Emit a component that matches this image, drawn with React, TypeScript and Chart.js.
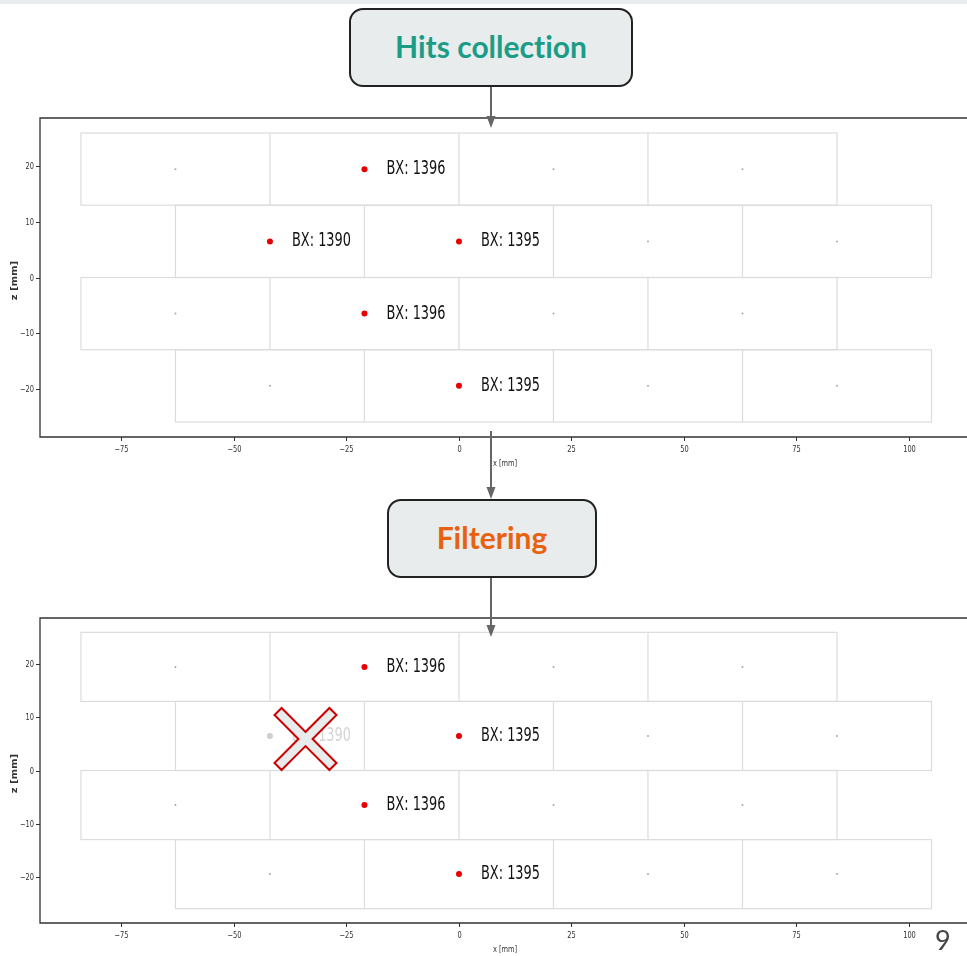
import React, { useEffect, useRef } from "react";
import { Chart, registerables } from "chart.js";

Chart.register(...registerables);

// ---- axes ----
const xTicks = [-75, -50, -25, 0, 25, 50, 75, 100];
const zTicks = [-20, -10, 0, 10, 20];
const X_MIN = -93.1;
const X_MAX = 112.0;
const Z_MIN = -28.7;
const Z_MAX = 28.7;

// ---- drift-tube cell layers (z range and wall positions in mm) ----
const layerZBottom = [13, 0, -13, -26];
const layerZTop = [26, 13, 0, -13];
const layerWalls = [
  [-84, -42, 0, 42, 84],
  [-63, -21, 21, 63, 105],
  [-84, -42, 0, 42, 84],
  [-63, -21, 21, 63, 105],
];

// ---- wire positions (cell centres) ----
const wireX = [-63, -21, 21, 63, -42, 0, 42, 84, -63, -21, 21, 63, -42, 0, 42, 84];
const wireZ = [19.5, 19.5, 19.5, 19.5, 6.5, 6.5, 6.5, 6.5, -6.5, -6.5, -6.5, -6.5, -19.5, -19.5, -19.5, -19.5];

// ---- hits ----
const hitX = [-21, -42, 0, -21, 0];
const hitZ = [19.5, 6.5, 6.5, -6.5, -19.5];
const hitBX = [1396, 1390, 1395, 1396, 1395];
const keptAfterFilter = [true, false, true, true, true];

const SX = 0.68; // horizontal squeeze of the original figure

function txt(ctx: CanvasRenderingContext2D, text: string, x: number, y: number, align: CanvasTextAlign, sx: number) {
  ctx.save();
  ctx.translate(x, y);
  ctx.scale(sx, 1);
  ctx.textAlign = align;
  ctx.textBaseline = "middle";
  ctx.fillText(text, 0, 0);
  ctx.restore();
}

function fmt(v: number) {
  return v < 0 ? "\u2212" + Math.abs(v) : String(v);
}

function DetectorChart({ top, height, filtered }: { top: number; height: number; filtered: boolean }) {
  const ref = useRef<HTMLCanvasElement | null>(null);
  useEffect(() => {
    const canvas = ref.current!;
    const hitOk = hitX.map((_, i) => !(filtered && !keptAfterFilter[i]));
    const hitColors = hitOk.map((ok) => (ok ? "#e60000" : "#cfcfcf"));

    const plugin = {
      id: "detector",
      beforeDatasetsDraw(chart: any) {
        const ctx = chart.ctx as CanvasRenderingContext2D;
        const xs = chart.scales.x;
        const ys = chart.scales.y;
        ctx.save();
        ctx.strokeStyle = "#dcdcdc";
        ctx.lineWidth = 1.2;
        layerWalls.forEach((walls, li) => {
          const y0 = ys.getPixelForValue(layerZBottom[li]);
          const y1 = ys.getPixelForValue(layerZTop[li]);
          const x0 = xs.getPixelForValue(walls[0]);
          const x1 = xs.getPixelForValue(walls[walls.length - 1]);
          ctx.strokeRect(x0, y1, x1 - x0, y0 - y1);
          walls.slice(1, -1).forEach((w) => {
            const px = xs.getPixelForValue(w);
            ctx.beginPath();
            ctx.moveTo(px, y1);
            ctx.lineTo(px, y0);
            ctx.stroke();
          });
        });
        ctx.restore();
      },
      afterDatasetsDraw(chart: any) {
        const ctx = chart.ctx as CanvasRenderingContext2D;
        const xs = chart.scales.x;
        const ys = chart.scales.y;
        const a = chart.chartArea;
        ctx.save();
        // hit labels
        ctx.font = "19px 'DejaVu Sans'";
        hitX.forEach((hx, i) => {
          ctx.fillStyle = hitOk[i] ? "#111111" : "#d4d4d4";
          txt(ctx, "BX: " + hitBX[i], xs.getPixelForValue(hx) + 22, ys.getPixelForValue(hitZ[i]), "left", SX);
        });
        // spines
        ctx.strokeStyle = "#333333";
        ctx.lineWidth = 1.3;
        ctx.beginPath();
        ctx.moveTo(a.right + 10, a.top);
        ctx.lineTo(a.left, a.top);
        ctx.lineTo(a.left, a.bottom);
        ctx.lineTo(a.right + 10, a.bottom);
        ctx.stroke();
        // ticks
        ctx.lineWidth = 1;
        ctx.fillStyle = "#333333";
        ctx.font = "9px 'DejaVu Sans'";
        xTicks.forEach((t) => {
          const px = Math.round(xs.getPixelForValue(t)) + 0.5;
          ctx.beginPath();
          ctx.moveTo(px, a.bottom);
          ctx.lineTo(px, a.bottom + 4);
          ctx.stroke();
          txt(ctx, fmt(t), px, a.bottom + 13, "center", 0.74);
        });
        zTicks.forEach((t) => {
          const py = Math.round(ys.getPixelForValue(t)) + 0.5;
          ctx.beginPath();
          ctx.moveTo(a.left - 4, py);
          ctx.lineTo(a.left, py);
          ctx.stroke();
          txt(ctx, fmt(t), a.left - 6, py, "right", 0.74);
        });
        // axis titles
        txt(ctx, "x [mm]", 505, a.bottom + 27, "center", 0.74);
        ctx.save();
        ctx.translate(15, (a.top + a.bottom) / 2 + 3);
        ctx.rotate(-Math.PI / 2);
        ctx.scale(1, 0.8);
        ctx.textAlign = "center";
        ctx.textBaseline = "middle";
        ctx.font = "bold 10px 'DejaVu Sans'";
        ctx.fillText("z [mm]", 0, 0);
        ctx.restore();
        ctx.restore();
      },
    };

    const chart = new Chart(canvas, {
      type: "scatter",
      data: {
        datasets: [
          {
            label: "wires",
            order: 2,
            data: wireX.map((x, i) => ({ x, y: wireZ[i] })),
            pointRadius: 1,
            pointBackgroundColor: "#a8a8a8",
            pointBorderColor: "#a8a8a8",
            pointBorderWidth: 0,
          },
          {
            label: "hits",
            order: 1,
            data: hitX.map((x, i) => ({ x, y: hitZ[i] })),
            pointStyle: "circle",
            pointRadius: 3,
            pointBorderWidth: 0,
            pointBackgroundColor: hitColors,
            pointBorderColor: hitColors,
          },
        ],
      },
      options: {
        responsive: false,
        animation: false,
        events: [],
        layout: { padding: { left: 40, top: 8, right: 0, bottom: 43 } },
        plugins: { legend: { display: false }, tooltip: { enabled: false } },
        scales: {
          x: { type: "linear", display: false, min: X_MIN, max: X_MAX },
          y: { type: "linear", display: false, min: Z_MIN, max: Z_MAX },
        },
      },
      plugins: [plugin],
    });
    return () => chart.destroy();
  }, [filtered]);
  return (
    <canvas
      ref={ref}
      width={967}
      height={height}
      style={{ position: "absolute", left: 0, top, width: 967, height }}
    />
  );
}

const boxStyle: React.CSSProperties = {
  position: "absolute",
  boxSizing: "border-box",
  border: "2px solid #222222",
  borderRadius: 14,
  background: "#e8ecec",
  display: "flex",
  alignItems: "center",
  justifyContent: "center",
  paddingBottom: 3,
  fontFamily: "Lato, 'Open Sans', sans-serif",
  fontWeight: 700,
  fontSize: 30,
  fontVariantLigatures: "none",
};

function Arrow({ x, y1, y2 }: { x: number; y1: number; y2: number }) {
  return (
    <g>
      <line x1={x} y1={y1} x2={x} y2={y2 - 10} stroke="#666666" strokeWidth={2} />
      <polygon points={`${x - 4.5},${y2 - 12} ${x + 4.5},${y2 - 12} ${x},${y2}`} fill="#666666" />
    </g>
  );
}

export default function App() {
  const t = 5 / Math.SQRT2;
  const n = 5 * Math.SQRT2;
  const cx = 305.5;
  const cy = 739;
  const e = 31;
  const f = 31 - 2 * t;
  const xPts = [
    [0, -n], [f, -e], [e, -f], [n, 0], [e, f], [f, e], [0, n], [-f, e], [-e, f], [-n, 0], [-e, -f], [-f, -e],
  ]
    .map(([px, py]) => `${cx + px},${cy + py}`)
    .join(" ");
  return (
    <div style={{ position: "absolute", left: 0, top: 0, width: 967, height: 956, overflow: "hidden", background: "#ffffff" }}>
      <div style={{ position: "absolute", left: 0, top: 0, width: 967, height: 4, background: "#e8ecec" }} />
      <DetectorChart top={110} height={370} filtered={false} />
      <DetectorChart top={610} height={356} filtered={true} />
      <div style={{ ...boxStyle, left: 349, top: 8, width: 284, height: 79, color: "#1b9c86" }}>Hits collection</div>
      <div style={{ ...boxStyle, left: 387, top: 499, width: 210, height: 79, color: "#e8610e" }}>Filtering</div>
      <svg width={967} height={956} style={{ position: "absolute", left: 0, top: 0, pointerEvents: "none" }}>
        <Arrow x={491} y1={87} y2={128} />
        <Arrow x={491} y1={431} y2={499} />
        <Arrow x={491} y1={578} y2={637} />
        <polygon points={xPts} fill="#e8ecec" stroke="#cc0000" strokeWidth={2} strokeLinejoin="miter" />
      </svg>
      <div
        style={{
          position: "absolute",
          left: 935,
          top: 923,
          fontFamily: "Lato, 'Open Sans', sans-serif",
          fontSize: 27,
          lineHeight: "34px",
          color: "#444444",
        }}
      >
        9
      </div>
    </div>
  );
}
